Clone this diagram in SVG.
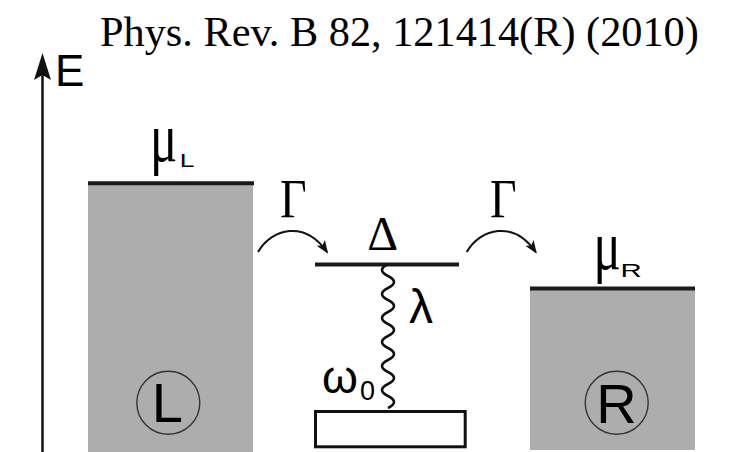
<svg xmlns="http://www.w3.org/2000/svg" width="732" height="452" viewBox="0 0 732 452">
<defs>
<style>
.serif{font-family:"Liberation Serif","Times New Roman",serif;fill:#000}
.sans{font-family:"Liberation Sans",Arial,sans-serif;fill:#000}
.lead{fill:#adadad}
.level{stroke:#1a1a1a;stroke-width:4}
.ring{fill:none;stroke:#333;stroke-width:1.4}
.hop{fill:none;stroke:#111;stroke-width:2}
.wave{fill:none;stroke:#111;stroke-width:2.6}
</style>
<marker id="ah" markerUnits="userSpaceOnUse" markerWidth="14" markerHeight="12" refX="11" refY="5" orient="auto"><path d="M0,0 L13,5 L0,10 L3,5 Z" fill="#111"/></marker>
</defs>
<rect width="732" height="452" fill="#fff"/>
<text id="citation" class="serif" x="100" y="46" font-size="42.3">Phys. Rev. B 82, 121414(R) (2010)</text>
<g id="energy-axis">
<line x1="42.5" y1="452" x2="42.5" y2="72" stroke="#111" stroke-width="2.5"/>
<path d="M42.5,53 L51,80 L42.5,75 L34,80 Z" fill="#111"/>
<text class="sans" x="55" y="86" font-size="44">E</text>
</g>
<g id="lead-L">
<rect class="lead" x="88" y="183" width="165" height="269"/>
<line class="level" x1="88" y1="183.3" x2="254" y2="183.3"/>
<text transform="translate(150,160.5) scale(0.85,1.17)" class="serif" font-size="60">μ</text>
<text transform="translate(179.8,166.7) scale(1.4,1)" class="sans" font-size="19">L</text>
<circle class="ring" cx="168.3" cy="402.7" r="31.5"/>
<text class="sans" x="167.3" y="421.7" font-size="56" text-anchor="middle">L</text>
</g>
<g id="lead-R">
<rect class="lead" x="530" y="288.5" width="165" height="161.5"/>
<line class="level" x1="530" y1="288.5" x2="695" y2="288.5"/>
<text transform="translate(593.5,268.5) scale(0.85,1.17)" class="serif" font-size="60">μ</text>
<text transform="translate(620.6,276.7) scale(1.55,1)" class="sans" font-size="19">R</text>
<circle class="ring" cx="616.7" cy="402.7" r="31.5"/>
<text class="sans" x="616.5" y="423" font-size="56" text-anchor="middle">R</text>
</g>
<g id="dot-level">
<line class="level" x1="315" y1="264.5" x2="459" y2="264.5"/>
<text class="serif" x="382.8" y="250" font-size="48" text-anchor="middle">Δ</text>
</g>
<g id="oscillator">
<rect x="315.5" y="411.5" width="149.7" height="35.3" fill="#fff" stroke="#111" stroke-width="3"/>
<text class="sans" x="322" y="393.3" font-size="46">ω</text>
<text class="sans" x="360" y="400" font-size="27">0</text>
</g>
<g id="connectors">
<path class="hop" d="M258,252 C272,228 305,220 327,252" marker-end="url(#ah)"/>
<path class="hop" d="M466.7,252 C480.7,228 513.7,220 535.7,252" marker-end="url(#ah)"/>
<path class="wave" d="M388,264 q-12,6 0,12 t0,12 t0,12 t0,12 t0,12 t0,12 t0,12 t0,12 t0,12 t0,12 t0,12 t0,12"/>
</g>
<g id="labels">
<text transform="translate(280,216.7) scale(1,1.2)" class="serif" font-size="46">Γ</text>
<text transform="translate(490,216.7) scale(1,1.2)" class="serif" font-size="46">Γ</text>
<text class="sans" x="409" y="323.3" font-size="48">λ</text>
</g>
</svg>
